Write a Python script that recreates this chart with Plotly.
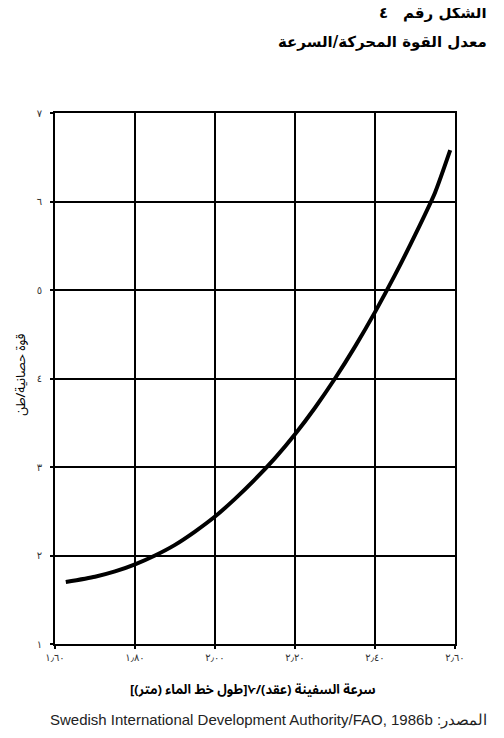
import plotly.graph_objects as go

# curve (speed/length ratio vs hp per ton)
rasio_kecepatan = [1.627, 1.70, 1.75, 1.80, 1.85, 1.90, 1.95, 2.00, 2.05, 2.10, 2.15, 2.20,
                   2.25, 2.30, 2.35, 2.40, 2.45, 2.50, 2.55, 2.588]
hp_per_ton = [1.70, 1.76, 1.82, 1.90, 2.00, 2.12, 2.27, 2.44, 2.64, 2.86, 3.10, 3.37,
              3.67, 4.00, 4.36, 4.75, 5.17, 5.62, 6.10, 6.58]

x_ticks = [1.6, 1.8, 2.0, 2.2, 2.4, 2.6]
x_tick_labels = ['١٫٦٠', '١٫٨٠', '٢٫٠٠', '٢٫٢٠', '٢٫٤٠', '٢٫٦٠']
y_ticks = [1, 2, 3, 4, 5, 6, 7]
y_tick_labels = ['١', '٢', '٣', '٤', '٥', '٦', '٧']

judul_1 = 'الشكل رقم'
nomor_gambar = '٤'
judul_2 = 'معدل القوة المحركة/السرعة'
label_y = 'قوة حصانية/طن'
label_x = 'سرعة السفينة (عقد)/√[طول خط الماء (متر)]'
sumber = 'Swedish International Development Authority/FAO, 1986b :المصدر'

FONT_AR = 'Noto Sans Arabic, DejaVu Sans, sans-serif'

fig = go.Figure()
fig.add_trace(go.Scatter(
    x=rasio_kecepatan, y=hp_per_ton,
    mode='lines',
    line=dict(color='black', width=4, shape='spline', smoothing=0.6),
    showlegend=False,
))

axis_common = dict(
    showgrid=True, gridcolor='black', gridwidth=1.5,
    showline=True, linecolor='black', linewidth=2, mirror=True,
    ticks='outside', ticklen=3, tickcolor='black', tickwidth=2,
    zeroline=False,
    tickfont=dict(family='DejaVu Sans', size=10, color='#333333'),
)

fig.update_xaxes(range=[1.6, 2.6], tickvals=x_ticks, ticktext=x_tick_labels, **axis_common)
fig.update_yaxes(range=[1, 7], tickvals=y_ticks, ticktext=y_tick_labels, ticklabelstandoff=6, **axis_common)

anns = [
    dict(text=f'<b>{judul_1}</b>', x=1.085, y=1.1883, xanchor='right', yanchor='middle',
         font=dict(family='DejaVu Sans', size=15, color='black')),
    dict(text=f'<b>{nomor_gambar}</b>', x=0.82, y=1.1883, xanchor='center', yanchor='middle',
         font=dict(family='DejaVu Sans', size=15, color='black')),
    dict(text=f'<b>{judul_2}</b>', x=1.085, y=1.1337, xanchor='right', yanchor='middle',
         font=dict(family='DejaVu Sans', size=15, color='black')),
    dict(text=label_y, x=-0.085, y=0.507, textangle=-90, xanchor='center', yanchor='middle',
         font=dict(family=FONT_AR, size=13, color='black')),
    dict(text=f'<b>{label_x}</b>', x=0.495, y=-0.0866, xanchor='center', yanchor='middle',
         font=dict(family=FONT_AR, size=13, color='black')),
    dict(text=sumber, x=1.085, y=-0.143, xanchor='right', yanchor='middle',
         font=dict(family='Liberation Sans', size=15, color='#222222')),
]
for a in anns:
    a.update(xref='paper', yref='paper', showarrow=False)

# the page body adds an 8px offset, so the figure is a little smaller
fig.update_layout(
    width=496, height=730,
    margin=dict(l=47, r=49, t=105, b=94),
    paper_bgcolor='white', plot_bgcolor='white',
    annotations=anns,
)

fig.write_html("out.html")
